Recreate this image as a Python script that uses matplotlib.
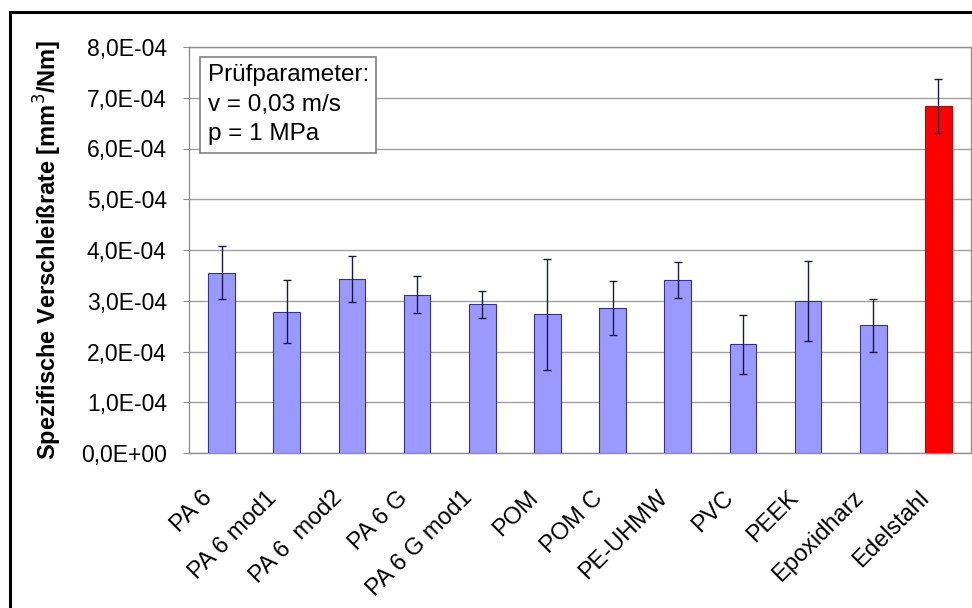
import numpy as np
import matplotlib.pyplot as plt
import matplotlib.transforms as mtransforms
from matplotlib.patches import Rectangle
from matplotlib.ticker import FuncFormatter

plt.rcParams['font.family'] = ['Liberation Sans', 'DejaVu Sans']

# werkstoffe und messwerte (in 1E-4 mm^3/Nm)
werkstoffe = ['PA 6', 'PA 6 mod1', 'PA 6  mod2', 'PA 6 G', 'PA 6 G mod1', 'POM',
              'POM C', 'PE-UHMW', 'PVC', 'PEEK', 'Epoxidharz', 'Edelstahl']
rate = [3.55, 2.78, 3.43, 3.12, 2.93, 2.73, 2.85, 3.41, 2.14, 3.00, 2.52, 6.84]
fehler = [0.52, 0.62, 0.45, 0.37, 0.27, 1.10, 0.53, 0.36, 0.58, 0.79, 0.52, 0.53]
farben = ['#9999FF'] * 11 + ['#FF0000']
kanten = ['#333399'] * 11 + ['#CC0000']

rate = np.array(rate) * 1e-4
fehler = np.array(fehler) * 1e-4

fig = plt.figure(figsize=(9.72, 6.08), dpi=100)
ax = fig.add_axes([189/972, 1-453/608, (971-189)/972, (453-47)/608])

x = np.arange(len(werkstoffe))
ax.bar(x, rate, width=0.41, color=farben, edgecolor=kanten, linewidth=0.8, zorder=3)
ax.errorbar(x, rate, yerr=fehler, fmt='none', ecolor='#1a1a40', elinewidth=1.0,
            capsize=3, capthick=1.0, zorder=4)

ax.set_xlim(-0.5, len(werkstoffe) - 0.5)
ax.set_ylim(0, 8e-4)
ax.set_yticks(np.arange(0, 9) * 1e-4)
ax.yaxis.set_major_formatter(FuncFormatter(
    lambda v, p: ('%.1E' % v).replace('.', ',')))
ax.grid(axis='y', color='#a0a0a0', linewidth=1.0, zorder=0)
for s in ax.spines.values():
    s.set_color('#909090')
    s.set_linewidth(1.0)

ax.tick_params(axis='y', length=4, color='#909090', labelsize=16.5, pad=12)
ax.tick_params(axis='x', length=0, pad=30)
ax.set_xticks(x)
ax.set_xticklabels(werkstoffe, rotation=45, ha='right', va='center',
                   rotation_mode='anchor', fontsize=17)
verschiebung = mtransforms.ScaledTranslation(-13/100, 0, fig.dpi_scale_trans)
for lab in ax.get_xticklabels():
    lab.set_transform(lab.get_transform() + verschiebung)

ax.set_ylabel('Spezifische Verschleißrate [mm$^3$/Nm]', fontsize=17,
              fontweight='bold', labelpad=12)

# kasten mit pruefparametern
ax.text(0.024, 0.958, 'Prüfparameter:\nv = 0,03 m/s\np = 1 MPa', transform=ax.transAxes,
        fontsize=17.5, va='top', ha='left', linespacing=1.45,
        bbox=dict(boxstyle='square,pad=0.3', facecolor='white', edgecolor='#808080',
                  linewidth=1.2), zorder=5)

# schwarzer rahmen um das diagramm
fig.patches.append(Rectangle((10/972, -0.05), 1.1, 1 - 12/608 + 0.05,
                             transform=fig.transFigure, fill=False,
                             edgecolor='black', linewidth=2.2))

fig.savefig('out.png', dpi=100)
